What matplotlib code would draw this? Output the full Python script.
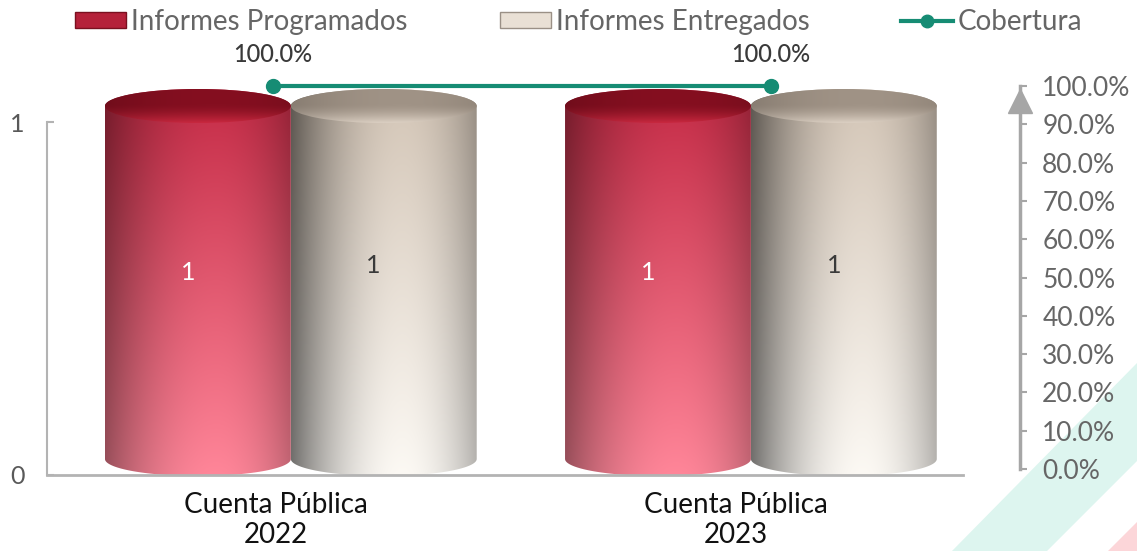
import numpy as np
import matplotlib
matplotlib.use("Agg")
import matplotlib.pyplot as plt
from matplotlib.path import Path
from matplotlib.patches import PathPatch, Ellipse, Patch, Polygon
from matplotlib.lines import Line2D
from matplotlib.transforms import ScaledTranslation

# --- data ---
categories = ["Cuenta Pública\n2022", "Cuenta Pública\n2023"]
programados = [1, 1]
entregados = [1, 1]
cobertura = [100.0, 100.0]
pct_ticks = [0, 10, 20, 30, 40, 50, 60, 70, 80, 90, 100]

plt.rcParams['font.family'] = ['Lato', 'DejaVu Sans']

W, H = 1137, 551
fig = plt.figure(figsize=(W / 100, H / 100), dpi=100)
fig.patch.set_facecolor('white')


def px(x0, y_top, x1, y_bot):
    """pixel box -> figure rect"""
    return [x0 / W, 1 - y_bot / H, (x1 - x0) / W, (y_bot - y_top) / H]


# background stripes
fig.patches.append(Polygon([(952 / W, 0), (1047 / W, 0), (1, 1 - 461 / H), (1, 1 - 363 / H)],
                           closed=True, transform=fig.transFigure, facecolor='#ddf5ef',
                           edgecolor='none', zorder=-5))
fig.patches.append(Polygon([(1108 / W, 0), (1, 0), (1, 1 - 522 / H)],
                           closed=True, transform=fig.transFigure, facecolor='#fcd6d9',
                           edgecolor='none', zorder=-5))

# main axes (counts)
ax = fig.add_axes(px(47, 80, 963, 475))
ax.set_facecolor('none')
scale_y = 353.0
ax.set_ylim(0, 395 / scale_y)
ax.set_xlim(-0.530, 1.461)

idx = np.arange(len(categories))
bw = 0.404
eh = 34 / scale_y          # ellipse height in data units
d3 = 16 / scale_y          # 3D offset


def hshade(n, left=0.62, right=0.8, peak=0.6):
    t = np.linspace(0, 1, n)
    s = np.where(t < peak,
                 1 - (1 - left) * ((t - peak) / peak) ** 2,
                 1 - (1 - right) * ((t - peak) / (1 - peak)) ** 2)
    return s


def hexrgb(h):
    h = h.lstrip('#')
    return np.array([int(h[i:i + 2], 16) / 255 for i in (0, 2, 4)])


def cylinder(xc, val, top, bot, lid_back, lid_front, left=0.62, right=0.8):
    x0, x1 = xc - bw / 2, xc + bw / 2
    yb, yt = d3, val + d3
    th = np.linspace(np.pi, 2 * np.pi, 80)
    lower = np.column_stack([xc + bw / 2 * np.cos(th), yb + eh / 2 * np.sin(th)])
    th2 = np.linspace(0, np.pi, 80)
    upper = np.column_stack([xc + bw / 2 * np.cos(th2), yt + eh / 2 * np.sin(th2)])
    verts = np.vstack([lower, upper, lower[:1]])
    body = PathPatch(Path(verts, closed=True), transform=ax.transData,
                     facecolor='none', edgecolor='none')
    nh, nw = 200, 160
    v = np.linspace(0, 1, nh)[:, None, None]
    col = hexrgb(top)[None, None, :] * (1 - v) + hexrgb(bot)[None, None, :] * v
    img = np.clip(col * hshade(nw, left, right)[None, :, None], 0, 1)
    im = ax.imshow(img, extent=(x0, x1, yb - eh / 2, yt + eh / 2), origin='upper',
                   aspect='auto', interpolation='bilinear', zorder=2)
    im.set_clip_path(body)
    im.set_clip_box(None)

    lid = Ellipse((xc, yt), bw, eh, transform=ax.transData,
                  facecolor='none', edgecolor='none')
    v = np.linspace(0, 1, 60)[:, None, None]
    w = np.clip((v - 0.45) / 0.55, 0, 1) ** 1.5
    col = hexrgb(lid_back)[None, None, :] * (1 - w) + hexrgb(lid_front)[None, None, :] * w
    img = np.clip(col * hshade(nw, 0.85, 0.92)[None, :, None], 0, 1)
    im2 = ax.imshow(img, extent=(x0, x1, yt - eh / 2, yt + eh / 2), origin='upper',
                    aspect='auto', interpolation='bilinear', zorder=3)
    im2.set_clip_path(lid)
    im2.set_clip_box(None)


for i in idx:
    cylinder(i - bw / 2, programados[i], '#c42b46', '#ff8699', '#850f20', '#c8283f',
             left=0.6, right=0.76)
    cylinder(i + bw / 2, entregados[i], '#d3c5b6', '#fcf9f4', '#a09386', '#dcd0c3',
             left=0.45, right=0.72)
    ax.text(i - bw / 2 - 0.022, programados[i] * 0.574, str(programados[i]),
            ha='center', va='center', fontsize=18, color='white', zorder=5)
    ax.text(i + bw / 2 - 0.022, entregados[i] * 0.594, str(entregados[i]),
            ha='center', va='center', fontsize=18, color='#3a3a3a', zorder=5)

ax.set_xlim(-0.530, 1.461)
ax.set_ylim(0, 395 / scale_y)

for s in ['top', 'right']:
    ax.spines[s].set_visible(False)
ax.spines['left'].set_bounds(0, 1)
ax.spines['left'].set_color('#b3b3b3')
ax.spines['left'].set_linewidth(1.5)
ax.spines['bottom'].set_color('#b3b3b3')
ax.spines['bottom'].set_linewidth(2)
ax.set_yticks([0, 1])
ax.tick_params(axis='y', direction='in', length=5, width=1.5, color='#b3b3b3',
               labelsize=18, labelcolor='#595959', pad=16)
ax.set_xticks(idx, categories)
ax.tick_params(axis='x', length=0, labelsize=20, labelcolor='#111111', pad=12)
for lbl in ax.get_xticklabels():
    lbl.set_linespacing(1.22)
    lbl.set_transform(lbl.get_transform() + ScaledTranslation(-0.15, 0, fig.dpi_scale_trans))

# coverage axes (percent)
ax2 = fig.add_axes(px(47, 86, 1020, 469))
ax2.set_facecolor('none')
ax2.set_xlim(-0.4538, 1.5)
ax2.set_ylim(0, 100)
for s in ['top', 'left', 'bottom']:
    ax2.spines[s].set_visible(False)
ax2.set_xticks([])
ax2.yaxis.tick_right()
ax2.spines['right'].set_color('#a6a6a6')
ax2.spines['right'].set_linewidth(2.5)
ax2.set_yticks(pct_ticks)
ax2.set_yticklabels([f"{t:.1f}%" for t in pct_ticks])
ax2.tick_params(axis='y', direction='out', length=5, width=1.5, color='#a6a6a6',
                labelsize=19, labelcolor='#666666', pad=11)
ax2.plot([1], [96], marker='^', markersize=17, color='#a6a6a6',
         transform=ax2.get_yaxis_transform(), clip_on=False, zorder=4)

teal = '#168c74'
ax2.plot(idx, cobertura, color=teal, lw=3, marker='o', markersize=10, zorder=6, clip_on=False)
for i in idx:
    ax2.annotate(f"{cobertura[i]:.1f}%", (i, cobertura[i]), xytext=(0, 23),
                 textcoords='offset points', ha='center', va='center',
                 fontsize=17, color='#3a3a3a', fontweight='medium')

handles = [
    Patch(facecolor='#b5213a', edgecolor='#7a1020'),
    Patch(facecolor='#e9e0d5', edgecolor='#9a9086'),
    Line2D([0], [0], color=teal, lw=3, marker='o', markersize=9),
]
fig.legend(handles, ['Informes Programados', 'Informes Entregados', 'Cobertura'],
           loc='center', bbox_to_anchor=(0.509, 1 - 22 / H), ncol=3, frameon=False,
           labelcolor='#666666', handlelength=1.85, handleheight=0.5,
           handletextpad=0.18, columnspacing=3.3, prop={'size': 20})

fig.savefig('out.png', dpi=100)
